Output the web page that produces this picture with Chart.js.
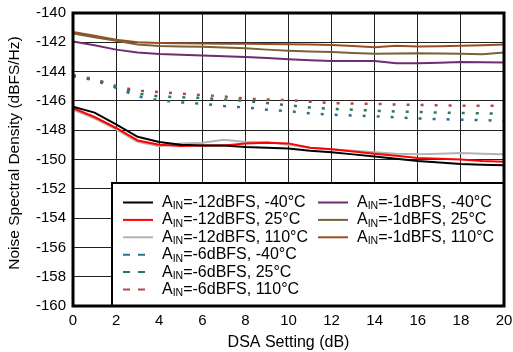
<!DOCTYPE html>
<html>
<head>
<meta charset="utf-8">
<script src="https://cdn.jsdelivr.net/npm/chart.js@4.4.1/dist/chart.umd.min.js"></script>
<style>
  html, body { margin: 0; padding: 0; background: #fff; }
  #wrap { width: 513px; height: 352px; }
</style>
</head>
<body>
<div id="wrap"><canvas id="nsdChart" width="513" height="352"></canvas></div>
<script>
// DSA setting (dB) along the x axis
var dsaSetting = [0, 1, 2, 3, 4, 5, 6, 7, 8, 9, 10, 11, 12, 13, 14, 15, 16, 17, 18, 19, 20];

// Noise spectral density (dBFS/Hz), one array per curve
var ain12_m40 = [-146.4, -146.8, -147.6, -148.45, -148.8, -149.0, -149.05, -149.05, -149.15, -149.2, -149.25,
                 -149.4, -149.5, -149.65, -149.8, -149.95, -150.1, -150.2, -150.3, -150.35, -150.4];
var ain12_25  = [-146.5, -147.1, -147.85, -148.7, -149.0, -149.07, -149.05, -149.05, -148.9, -148.85, -148.9,
                 -149.2, -149.3, -149.45, -149.6, -149.75, -149.9, -149.95, -150.0, -150.1, -150.15];
var ain12_110 = [-146.6, -147.2, -147.95, -148.8, -149.1, -148.9, -148.85, -148.65, -148.8, -148.8, -149.0,
                 -149.2, -149.3, -149.4, -149.5, -149.6, -149.65, -149.6, -149.55, -149.6, -149.65];
var ain6_m40  = [-144.3, -144.6, -145.1, -145.7, -145.95, -146.1, -146.2, -146.35, -146.45, -146.6, -146.7,
                 -146.85, -146.94, -147.0, -147.05, -147.12, -147.2, -147.25, -147.28, -147.32, -147.35];
var ain6_25   = [-144.3, -144.55, -145.0, -145.5, -145.7, -145.75, -145.8, -145.9, -146.0, -146.15, -146.3,
                 -146.45, -146.55, -146.6, -146.67, -146.72, -146.75, -146.8, -146.82, -146.85, -146.87];
var ain6_110  = [-144.25, -144.5, -145.0, -145.3, -145.4, -145.5, -145.6, -145.7, -145.85, -145.9, -145.95,
                 -146.05, -146.15, -146.18, -146.2, -146.25, -146.28, -146.3, -146.33, -146.33, -146.33];
var ain1_m40  = [-141.95, -142.2, -142.5, -142.7, -142.8, -142.85, -142.9, -142.95, -143.0, -143.08, -143.15,
                 -143.22, -143.27, -143.27, -143.27, -143.43, -143.43, -143.4, -143.35, -143.37, -143.38];
var ain1_25   = [-141.4, -141.65, -141.9, -142.15, -142.25, -142.28, -142.3, -142.35, -142.4, -142.5, -142.57,
                 -142.62, -142.67, -142.73, -142.79, -142.77, -142.75, -142.77, -142.79, -142.81, -142.7];
var ain1_110  = [-141.3, -141.55, -141.83, -142.0, -142.05, -142.07, -142.08, -142.1, -142.1, -142.12, -142.13,
                 -142.15, -142.18, -142.25, -142.33, -142.24, -142.29, -142.27, -142.24, -142.2, -142.15];

// legend text: level and temperature of each curve
var seriesLevels = ['-12dBFS', '-12dBFS', '-12dBFS', '-6dBFS', '-6dBFS', '-6dBFS', '-1dBFS', '-1dBFS', '-1dBFS'];
var seriesTemps = ['-40°C', '25°C', '110°C', '-40°C', '25°C', '110°C', '-40°C', '25°C', '110°C'];

var yTitle = 'Noise Spectral Density (dBFS/Hz)';
var FONT = '"Liberation Sans", Arial, sans-serif';

function pts(arr) {
    return arr.map(function (v, i) { return { x: dsaSetting[i], y: v }; });
}

function makeSet(i, values, color, dashed) {
    return {
        label: 'AIN=' + seriesLevels[i] + ', ' + seriesTemps[i],
        level: seriesLevels[i],
        temp: seriesTemps[i],
        data: pts(values),
        borderColor: color,
        backgroundColor: color,
        borderWidth: dashed ? 2.5 : 2,
        borderDash: dashed ? [3, 11] : [],
        pointRadius: 0,
        tension: 0,
        fill: false
    };
}

// draws the plot frame, the legend box (with the IN subscript) and the y title
var framePlugin = {
    id: 'frameAndLegend',
    afterDatasetsDraw: function (chart) {
        var ctx = chart.ctx, a = chart.chartArea;
        ctx.save();
        // legend box
        var lx = 112, ly = 183, lw = a.right - lx, lh = a.bottom - ly;
        ctx.fillStyle = '#fff';
        ctx.fillRect(lx, ly, lw, lh);
        ctx.strokeStyle = '#000';
        ctx.lineWidth = 2;
        ctx.strokeRect(lx, ly, lw, lh);

        var rowY = 202.5, rowH = 17.4;
        chart.data.datasets.forEach(function (ds, i) {
            var col = i < 6 ? 0 : 1;
            var row = i < 6 ? i : i - 6;
            var sx = col === 0 ? lx + 11 : lx + 206;
            var y = rowY + row * rowH;
            var dashed = ds.borderDash.length > 0;
            ctx.strokeStyle = ds.borderColor;
            ctx.lineWidth = 2;
            ctx.setLineDash(dashed ? [7, 8] : []);
            ctx.beginPath();
            ctx.moveTo(sx, y);
            ctx.lineTo(sx + (dashed ? 22 : 30), y);
            ctx.stroke();
            ctx.setLineDash([]);

            var tx = sx + 39;
            ctx.fillStyle = '#000';
            ctx.textBaseline = 'middle';
            ctx.textAlign = 'left';
            ctx.font = '16px ' + FONT;
            ctx.fillText('A', tx, y);
            tx += ctx.measureText('A').width;
            ctx.font = '10.5px ' + FONT;
            ctx.fillText('IN', tx, y + 4);
            tx += ctx.measureText('IN').width;
            ctx.font = '16px ' + FONT;
            ctx.fillText('=' + ds.level + ', ' + ds.temp, tx, y);
        });

        // plot frame
        ctx.strokeStyle = '#000';
        ctx.lineWidth = 3;
        ctx.strokeRect(a.left, a.top, a.right - a.left, a.bottom - a.top);

        // y axis title, sitting a little above the plot centre as in the original
        ctx.translate(14.5, 153);
        ctx.rotate(-Math.PI / 2);
        ctx.textAlign = 'center';
        ctx.textBaseline = 'middle';
        ctx.font = '15.5px ' + FONT;
        ctx.fillStyle = '#000';
        ctx.fillText(yTitle, 0, 0);
        ctx.restore();
    }
};

var ctx1 = document.getElementById('nsdChart').getContext('2d');
var nsdChart = new Chart(ctx1, {
    type: 'line',
    data: {
        datasets: [
            makeSet(0, ain12_m40, '#000000', false),
            makeSet(1, ain12_25, '#ff0000', false),
            makeSet(2, ain12_110, '#b3b3b3', false),
            makeSet(3, ain6_m40, '#2f6f8f', true),
            makeSet(4, ain6_25, '#2a7a55', true),
            makeSet(5, ain6_110, '#b24848', true),
            makeSet(6, ain1_m40, '#6e2d6e', false),
            makeSet(7, ain1_25, '#7a6136', false),
            makeSet(8, ain1_110, '#9a4e1f', false)
        ]
    },
    options: {
        responsive: false,
        animation: false,
        layout: { padding: { top: 13, right: 9, left: 0, bottom: 0 } },
        plugins: {
            legend: { display: false },
            tooltip: { enabled: false }
        },
        scales: {
            x: {
                type: 'linear',
                min: 0,
                max: 20,
                afterFit: function (s) {
                    s.height = 46;
                    s.paddingLeft = 0;
                    s.paddingRight = 0;
                },
                ticks: { stepSize: 2, color: '#000', padding: 6, font: { family: FONT, size: 15 } },
                grid: { color: '#222', lineWidth: 1, drawTicks: false },
                border: { display: false },
                title: {
                    display: true,
                    text: 'DSA Setting (dB)',
                    color: '#000',
                    font: { family: FONT, size: 16 },
                    padding: { top: 0, bottom: 0 }
                }
            },
            y: {
                min: -160,
                max: -140,
                afterFit: function (s) {
                    s.width = 73;
                    s.paddingTop = 0;
                    s.paddingBottom = 0;
                },
                ticks: { stepSize: 2, color: '#000', padding: 7, font: { family: FONT, size: 15 } },
                grid: { color: '#222', lineWidth: 1, drawTicks: false },
                border: { display: false }
            }
        }
    },
    plugins: [framePlugin]
});
</script>
</body>
</html>
